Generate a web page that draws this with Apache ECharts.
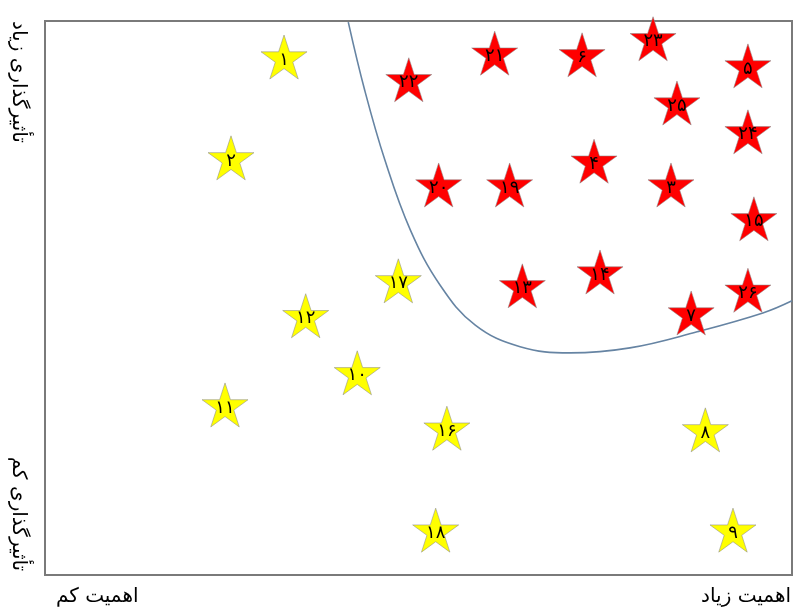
<!DOCTYPE html>
<html>
<head>
<meta charset="utf-8">
<script src="https://cdn.jsdelivr.net/npm/echarts@6/dist/echarts.min.js"></script>
<style>
  html, body { margin: 0; padding: 0; background: #fff; }
  #chart { width: 796px; height: 612px; }
</style>
</head>
<body>
<div id="chart"></div>
<script>
// شماره‌ها و موقعیت ستاره‌ها (اهمیت، تأثیرگذاری) روی مقیاس ۰ تا ۱۰۰
const labels = ['۱','۲','۳','۴','۵','۶','۷','۸','۹','۱۰','۱۱','۱۲','۱۳','۱۴','۱۵','۱۶','۱۷','۱۸','۱۹','۲۰','۲۱','۲۲','۲۳','۲۴','۲۵','۲۶'];
const importance = [32.0, 24.9, 83.8, 73.5, 94.1, 71.9, 86.5, 88.4, 92.1, 41.8, 24.1, 34.9, 63.9, 74.3, 94.9, 53.8, 47.3, 52.3, 62.2, 52.7, 60.2, 48.7, 81.4, 94.1, 84.6, 94.1];
const influence  = [93.5, 75.3, 70.4, 74.7, 91.9, 93.9, 47.3, 26.2, 8.1, 36.5, 30.7, 46.8, 52.2, 54.7, 64.3, 26.5, 53.1, 8.1, 70.4, 70.4, 94.2, 89.4, 96.8, 80.0, 85.2, 51.4];
// گروه: 1 = قرمز (مهم)، 0 = زرد
const group = [0,0,1,1,1,1,1,0,0,0,0,0,1,1,1,0,0,0,1,1,1,1,1,1,1,1];

// منحنی جداکننده
const curveX = [40.6, 42.8, 45.5, 48.9, 52.9, 57.6, 63.6, 70.3, 78.3, 87.3, 96.1, 100];
const curveY = [99.8, 87.5, 74.9, 62.3, 52.3, 45.1, 41.2, 40.1, 41.0, 43.9, 47.3, 49.5];

const axisText = {
  lowImp: 'اهمیت کم',
  highImp: 'اهمیت زیاد',
  highInf: 'تأثیرگذاری زیاد',
  lowInf: 'تأثیرگذاری کم'
};

const starPath = 'path://M50 0 L61.23 34.55 L97.55 34.55 L68.16 55.9 L79.39 90.45 L50 69.1 L20.61 90.45 L31.84 55.9 L2.45 34.55 L38.77 34.55 Z';
const font = "'DejaVu Sans', sans-serif";

function starData(g) {
  const out = [];
  labels.forEach((l, i) => {
    if (group[i] === g) out.push({ value: [importance[i], influence[i]], name: l });
  });
  return out;
}

const starSeries = (g, color) => ({
  type: 'scatter',
  symbol: starPath,
  symbolSize: [46, 44],
  data: starData(g),
  itemStyle: { color: color, opacity: 1, borderColor: 'rgba(140,140,140,0.7)', borderWidth: 0.8 },
  label: {
    show: true, position: 'inside', formatter: p => p.name, offset: [0, 3],
    color: '#000', fontSize: 18, fontFamily: font
  },
  emphasis: { disabled: true },
  z: 3
});

const chart = echarts.init(document.getElementById('chart'), null, { renderer: 'canvas' });
chart.setOption({
  animation: false,
  backgroundColor: '#fff',
  grid: {
    left: 45, top: 21, right: 4, bottom: 37,
    show: true, borderColor: '#7a7a7a', borderWidth: 2, backgroundColor: '#fff'
  },
  xAxis: { type: 'value', min: 0, max: 100, show: false },
  yAxis: { type: 'value', min: 0, max: 100, show: false },
  series: [
    {
      type: 'line',
      data: curveX.map((x, i) => [x, curveY[i]]),
      smooth: 0.4,
      showSymbol: false,
      lineStyle: { color: '#6684a3', width: 1.6 },
      emphasis: { disabled: true },
      z: 2
    },
    starSeries(0, '#ffff00'),
    starSeries(1, '#ff0000')
  ],
  graphic: [
    { type: 'text', left: 56, top: 587, style: { text: axisText.lowImp, fontSize: 20, fontFamily: font, fill: '#000' } },
    { type: 'text', right: 5, top: 587, style: { text: axisText.highImp, fontSize: 20, fontFamily: font, fill: '#000' } },
    { type: 'text', x: 18, y: 82, rotation: -Math.PI / 2,
      style: { text: axisText.highInf, fontSize: 20, fontFamily: font, fill: '#000', align: 'center', verticalAlign: 'middle' } },
    { type: 'text', x: 18, y: 514, rotation: -Math.PI / 2,
      style: { text: axisText.lowInf, fontSize: 20, fontFamily: font, fill: '#000', align: 'center', verticalAlign: 'middle' } }
  ]
});
</script>
</body>
</html>
